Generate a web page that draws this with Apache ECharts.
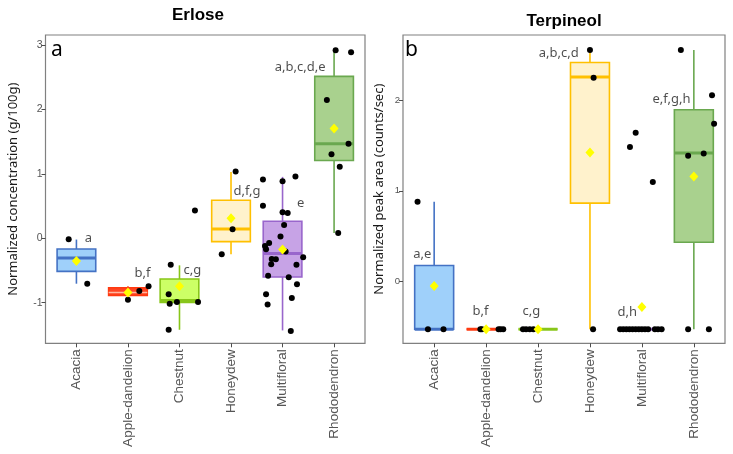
<!DOCTYPE html>
<html>
<head>
<meta charset="utf-8">
<script src="https://cdn.jsdelivr.net/npm/echarts@6/dist/echarts.min.js"></script>
<style>
html,body{margin:0;padding:0;background:#fff;}
#chart{width:733px;height:454px;}
</style>
</head>
<body>
<div id="chart"></div>
<script>
// ---------- DATA ----------
const categories = ['Acacia', 'Apple-dandelion', 'Chestnut', 'Honeydew', 'Multifloral', 'Rhododendron'];

// box stats: [lower whisker, Q1, median, Q3, upper whisker]
const erloseStats = [
  [-0.705, -0.513, -0.306, -0.166, -0.02],
  [-0.886, -0.886, -0.84, -0.767, -0.746],
  [-1.42, -0.995, -0.964, -0.632, -0.42],
  [-0.249, -0.052, 0.145, 0.59, 1.03],
  [-1.43, -0.60, -0.238, 0.264, 0.953],
  [0.083, 1.207, 1.466, 2.513, 2.91]
];
const erloseMeans = [-0.352, -0.84, -0.746, 0.31, -0.176, 1.705];
// individual samples: [category index, value]
const erlosePoints = [
  [0, -0.016], [0, -0.705],
  [1, -0.953], [1, -0.82], [1, -0.746],
  [2, -0.41], [2, -0.87], [2, -1.016], [2, -0.99], [2, -0.99], [2, -1.42], [2, 0.43],
  [3, 1.036], [3, 0.14], [3, -0.249],
  [4, 0.912], [4, 0.886], [4, 0.959], [4, 0.503], [4, 0.404], [4, 0.394], [4, 0.207], [4, 0.026],
  [4, -0.119], [4, -0.073], [4, -0.171], [4, -0.321], [4, -0.326], [4, -0.404], [4, -0.207], [4, -0.295],
  [4, -0.409], [4, -0.58], [4, -0.606], [4, -0.715], [4, -0.87], [4, -0.927], [4, -1.026], [4, -1.44],
  [5, 2.92], [5, 2.886], [5, 2.145], [5, 1.466], [5, 1.306], [5, 1.109], [5, 0.083]
];
// horizontal jitter of each sample (category units)
const erloseJitter = [
  -0.15, 0.21,
  0, 0.22, 0.4,
  -0.17, -0.21, -0.19, -0.05, 0.36, -0.21, 0.30,
  0.09, 0.03, -0.18,
  -0.38, 0, 0.25, -0.38, 0, 0.1, 0.03, -0.04,
  -0.34, -0.26, -0.32, -0.21, -0.13, -0.22, 0.06, 0.40,
  0.27, -0.28, 0.12, 0.28, -0.32, 0.18, -0.29, 0.16,
  0.03, 0.33, -0.14, 0.28, -0.05, 0.11, 0.08
];
const erloseLetters = ['a', 'b,f', 'c,g', 'd,f,g', 'e', 'a,b,c,d,e'];
const erloseLetterAt = [[0.23, 0.0], [1.28, -0.54], [2.25, -0.49], [3.31, 0.73], [4.35, 0.54], [4.34, 2.65]];

const terpStats = [
  [-0.533, -0.533, -0.533, 0.173, 0.879],
  [-0.533, -0.533, -0.533, -0.533, -0.533],
  [-0.533, -0.533, -0.533, -0.533, -0.533],
  [-0.533, 0.864, 2.261, 2.423, 2.563],
  [-0.533, -0.533, -0.533, -0.533, -0.533],
  [-0.533, 0.43, 1.419, 1.90, 2.563]
];
const terpMeans = [-0.055, -0.533, -0.533, 1.426, -0.287, 1.158];
const terpPoints = [
  [0, 0.879], [0, -0.533], [0, -0.533],
  [1, -0.533], [1, -0.533], [1, -0.533], [1, -0.533], [1, -0.533],
  [2, -0.533], [2, -0.533], [2, -0.533], [2, -0.533],
  [3, 2.563], [3, 2.254], [3, -0.533],
  [4, 1.485], [4, 1.643], [4, 1.099],
  [4, -0.533], [4, -0.533], [4, -0.533], [4, -0.533], [4, -0.533], [4, -0.533], [4, -0.533],
  [4, -0.533], [4, -0.533], [4, -0.533], [4, -0.533], [4, -0.533], [4, -0.533],
  [5, 2.563], [5, 2.059], [5, 1.743], [5, 1.415], [5, 1.39], [5, -0.533], [5, -0.533]
];
const terpJitter = [
  -0.32, -0.12, 0.18,
  -0.11, -0.08, 0.24, 0.28, 0.33,
  -0.29, -0.23, -0.16, -0.09,
  0, 0.07, 0.06,
  -0.23, -0.12, 0.21,
  -0.42, -0.36, -0.30, -0.24, -0.18, -0.12, -0.06,
  0.0, 0.06, 0.12, 0.25, 0.31, 0.38,
  -0.25, 0.35, 0.39, 0.19, -0.11, -0.11, 0.29
];
const terpLetters = ['a,e', 'b,f', 'c,g', 'a,b,c,d', 'd,h', 'e,f,g,h'];
const terpLetterAt = [[-0.23, 0.30], [0.89, -0.34], [1.87, -0.34], [2.40, 2.53], [3.72, -0.35], [4.57, 2.02]];

const erloseTicks = [-1, 0, 1, 2, 3];
const terpTicks = [0, 1, 2];
const catTicks = [0, 1, 2, 3, 4, 5];

// ---------- STYLE ----------
const boxStroke = ['#4472c4', '#ff3a10', '#88c61a', '#ffc000', '#9966cc', '#6aa84f'];
const boxFill   = ['#9fd0fa', '#ff4522', '#ccff66', '#fff2cc', '#c7a3e6', '#a9d18e'];
const erloseMedStroke = ['#4472c4', '#ffb8a0', '#88c61a', '#ffc000', '#9966cc', '#6aa84f'];
const erloseMedWidth  = [3, 1.5, 3, 3, 3, 3];
const terpMedStroke   = ['#4472c4', '#ff3a10', '#88c61a', '#ffc000', '#9966cc', '#6aa84f'];
const terpMedWidth    = [3, 3, 3, 3, 3, 3];
const BOX_W = 0.75;

function boxSeries(stats, axisIdx, medStroke, medWidth) {
  return {
    type: 'custom', xAxisIndex: axisIdx, yAxisIndex: axisIdx, z: 2, silent: true,
    data: stats.map((s, i) => [i].concat(s)),
    encode: { x: 0, y: [1, 2, 3, 4, 5] },
    renderItem: function (params, api) {
      const i = api.value(0);
      const w = api.size([BOX_W, 0])[0];
      const pLow = api.coord([i, api.value(1)]);
      const pQ1 = api.coord([i, api.value(2)]);
      const pMed = api.coord([i, api.value(3)]);
      const pQ3 = api.coord([i, api.value(4)]);
      const pHigh = api.coord([i, api.value(5)]);
      const x = pLow[0];
      const st = boxStroke[i];
      const lw = 1.6;
      return {
        type: 'group',
        children: [
          { type: 'line', shape: { x1: x, y1: pQ3[1], x2: x, y2: pHigh[1] }, style: { stroke: st, lineWidth: lw } },
          { type: 'line', shape: { x1: x, y1: pQ1[1], x2: x, y2: pLow[1] }, style: { stroke: st, lineWidth: lw } },
          { type: 'rect', shape: { x: x - w / 2, y: pQ3[1], width: w, height: pQ1[1] - pQ3[1] }, style: { fill: boxFill[i], stroke: st, lineWidth: lw } },
          { type: 'line', shape: { x1: x - w / 2, y1: pMed[1], x2: x + w / 2, y2: pMed[1] }, style: { stroke: medStroke[i], lineWidth: medWidth[i] } }
        ]
      };
    }
  };
}
function pointSeries(points, jitter, axisIdx) {
  return {
    type: 'scatter', xAxisIndex: axisIdx, yAxisIndex: axisIdx, z: 3, silent: true,
    symbolSize: 6, itemStyle: { color: '#000', opacity: 1 },
    data: points.map((p, k) => [p[0] + jitter[k], p[1]])
  };
}
function meanSeries(means, axisIdx) {
  return {
    type: 'scatter', xAxisIndex: axisIdx, yAxisIndex: axisIdx, z: 4, silent: true,
    symbol: 'diamond', symbolSize: [9, 10], itemStyle: { color: '#ffff00', opacity: 1 },
    data: means.map((m, i) => [i, m])
  };
}
function letterSeries(letters, at, axisIdx) {
  return {
    type: 'scatter', xAxisIndex: axisIdx, yAxisIndex: axisIdx, z: 5, silent: true,
    symbolSize: 1, itemStyle: { color: 'rgba(0,0,0,0)' },
    label: { show: true, position: 'inside', formatter: p => p.data[2], color: '#1f1f1f',
      fontSize: 13, fontFamily: 'Noto Sans', align: 'center', verticalAlign: 'middle' },
    data: letters.map((t, i) => [at[i][0], at[i][1], t])
  };
}
function xAxisFor(gridIndex) {
  return {
    type: 'value', gridIndex: gridIndex, min: -0.6, max: 5.6, position: 'bottom',
    axisLine: { show: false, onZero: false }, splitLine: { show: false },
    axisTick: { show: true, customValues: catTicks, length: 4, lineStyle: { color: '#4d4d4d', width: 1 } },
    axisLabel: { show: true, customValues: catTicks, rotate: 90, margin: 6,
      formatter: v => categories[Math.round(v)], color: '#555', fontSize: 13.5, fontFamily: 'Liberation Sans' }
  };
}
function yAxisFor(gridIndex, min, max, ticks, name, gap, fs) {
  return {
    type: 'value', gridIndex: gridIndex, min: min, max: max, position: 'left',
    axisLine: { show: false, onZero: false }, splitLine: { show: false },
    axisTick: { show: true, customValues: ticks, length: 4, lineStyle: { color: '#4d4d4d', width: 1 } },
    axisLabel: { show: true, customValues: ticks, margin: 3, color: '#555', fontSize: fs, fontFamily: 'Liberation Sans' },
    name: name, nameLocation: 'middle', nameGap: gap,
    nameTextStyle: { fontSize: 13, fontFamily: 'Noto Sans', color: '#1a1a1a' }
  };
}

const chart = echarts.init(document.getElementById('chart'), null, { renderer: 'canvas' });
chart.setOption({
  animation: false,
  backgroundColor: '#fff',
  grid: [
    { left: 45.5, top: 35, width: 319.5, height: 308.3, show: true, borderColor: '#808080', borderWidth: 1.2, backgroundColor: 'transparent' },
    { left: 403, top: 35, width: 322, height: 308.3, show: true, borderColor: '#808080', borderWidth: 1.2, backgroundColor: 'transparent' }
  ],
  xAxis: [xAxisFor(0), xAxisFor(1)],
  yAxis: [
    yAxisFor(0, -1.63, 3.155, erloseTicks, 'Normalized concentration (g/100g)', 26, 10.5),
    yAxisFor(1, -0.69, 2.728, terpTicks, 'Normalized peak area (counts/sec)', 17, 9.5)
  ],
  graphic: [
    { type: 'text', x: 198, y: 15, style: { text: 'Erlose', font: 'bold 17px "Liberation Sans"', fill: '#000', align: 'center', verticalAlign: 'middle' } },
    { type: 'text', x: 564, y: 21, style: { text: 'Terpineol', font: 'bold 17px "Liberation Sans"', fill: '#000', align: 'center', verticalAlign: 'middle' } },
    { type: 'text', x: 51, y: 50, style: { text: 'a', font: '21px "Noto Sans"', fill: '#000', align: 'left', verticalAlign: 'middle' } },
    { type: 'text', x: 405, y: 50, style: { text: 'b', font: '21px "Noto Sans"', fill: '#000', align: 'left', verticalAlign: 'middle' } }
  ],
  series: [
    boxSeries(erloseStats, 0, erloseMedStroke, erloseMedWidth), pointSeries(erlosePoints, erloseJitter, 0), meanSeries(erloseMeans, 0), letterSeries(erloseLetters, erloseLetterAt, 0),
    boxSeries(terpStats, 1, terpMedStroke, terpMedWidth), pointSeries(terpPoints, terpJitter, 1), meanSeries(terpMeans, 1), letterSeries(terpLetters, terpLetterAt, 1)
  ]
});
</script>
</body>
</html>
